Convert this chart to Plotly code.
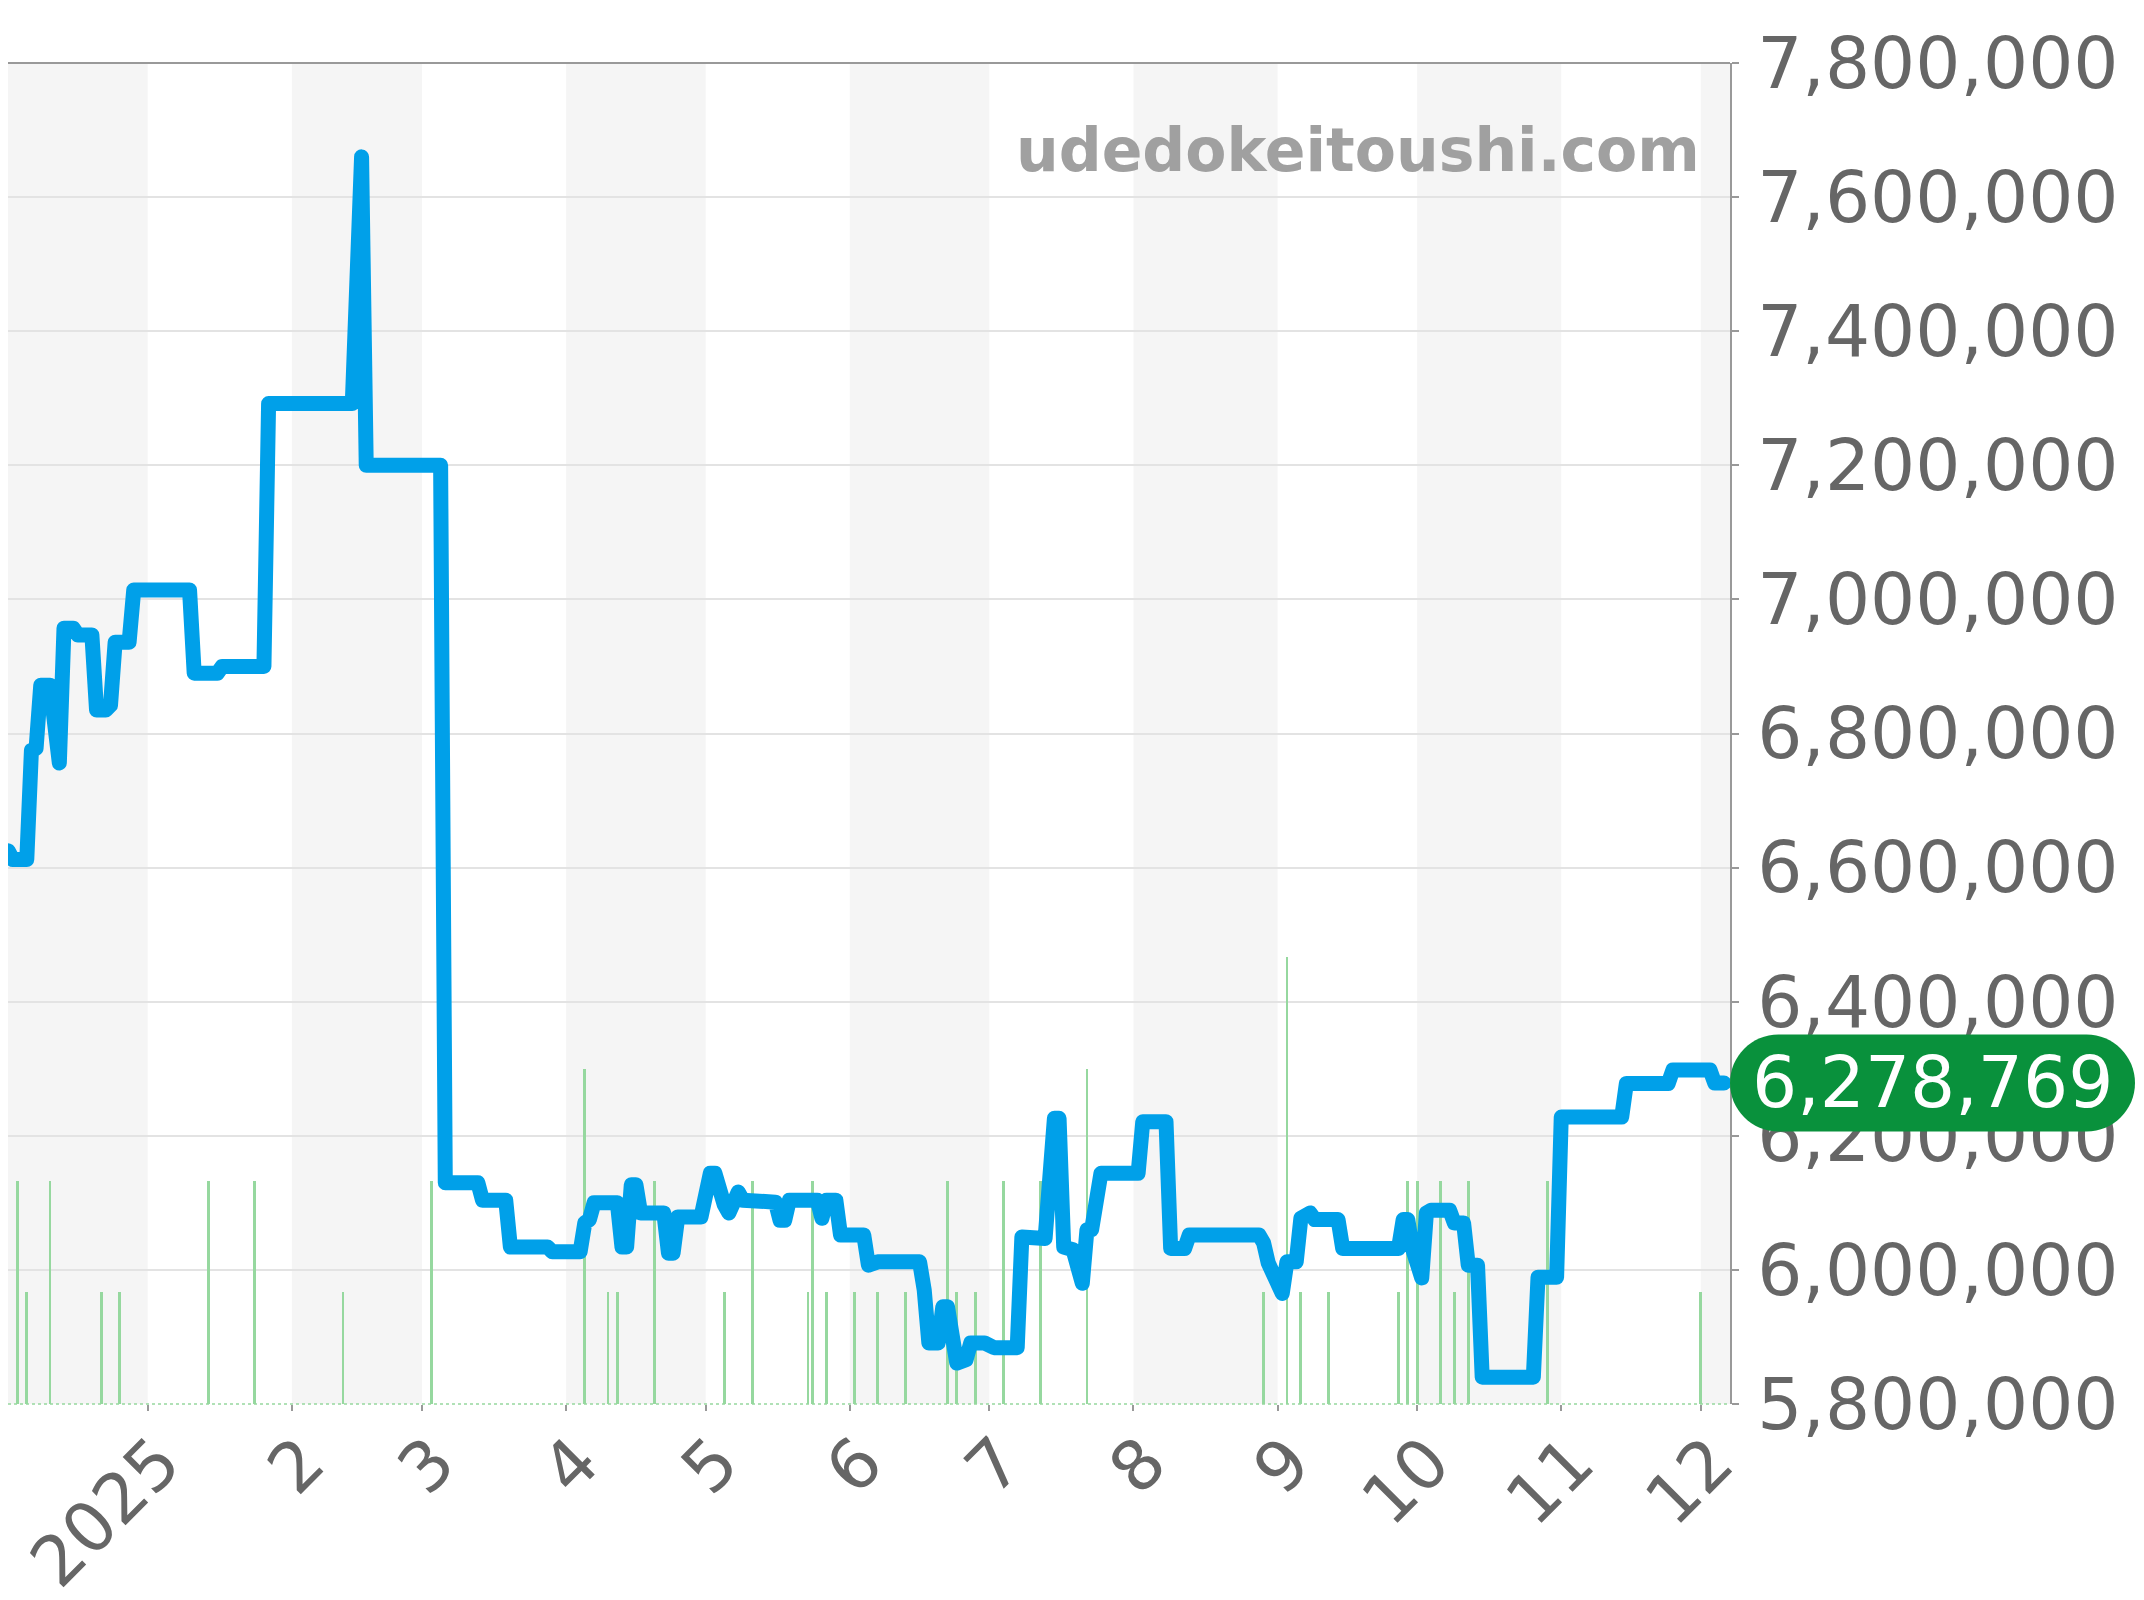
import plotly.graph_objects as go
import pandas as pd

# ---------------- data ----------------
price_dates = [
    "2024-12-02", "2024-12-03", "2024-12-06", "2024-12-07", "2024-12-08", "2024-12-09",
    "2024-12-11", "2024-12-13", "2024-12-14", "2024-12-16", "2024-12-17", "2024-12-20",
    "2024-12-21", "2024-12-23", "2024-12-24", "2024-12-25", "2024-12-28", "2024-12-29",
    "2025-01-10", "2025-01-11", "2025-01-16", "2025-01-17", "2025-01-26", "2025-01-27",
    "2025-02-14", "2025-02-16", "2025-02-17", "2025-03-05", "2025-03-06", "2025-03-13",
    "2025-03-14", "2025-03-19", "2025-03-20", "2025-03-28", "2025-03-29", "2025-04-04",
    "2025-04-05", "2025-04-06", "2025-04-07", "2025-04-12", "2025-04-13", "2025-04-14",
    "2025-04-15", "2025-04-16", "2025-04-17", "2025-04-22", "2025-04-23", "2025-04-24",
    "2025-04-25", "2025-04-30", "2025-05-02", "2025-05-03", "2025-05-05", "2025-05-06",
    "2025-05-08", "2025-05-09", "2025-05-16", "2025-05-17", "2025-05-18", "2025-05-19",
    "2025-05-25", "2025-05-26", "2025-05-27", "2025-05-29", "2025-05-30", "2025-06-04",
    "2025-06-05", "2025-06-07", "2025-06-16", "2025-06-17", "2025-06-18", "2025-06-20",
    "2025-06-21", "2025-06-22", "2025-06-24", "2025-06-25", "2025-06-26", "2025-06-27",
    "2025-06-30", "2025-07-02", "2025-07-07", "2025-07-08", "2025-07-13", "2025-07-15",
    "2025-07-16", "2025-07-17", "2025-07-19", "2025-07-21", "2025-07-22", "2025-07-23",
    "2025-07-25", "2025-08-02", "2025-08-03", "2025-08-08", "2025-08-09", "2025-08-12",
    "2025-08-13", "2025-08-28", "2025-08-29", "2025-08-30", "2025-09-02", "2025-09-03",
    "2025-09-05", "2025-09-06", "2025-09-08", "2025-09-09", "2025-09-14", "2025-09-15",
    "2025-09-27", "2025-09-28", "2025-09-29", "2025-09-30", "2025-10-02", "2025-10-03",
    "2025-10-04", "2025-10-08", "2025-10-09", "2025-10-11", "2025-10-12", "2025-10-14",
    "2025-10-15", "2025-10-26", "2025-10-27", "2025-10-31", "2025-11-01", "2025-11-14",
    "2025-11-15", "2025-11-24", "2025-11-25", "2025-12-03", "2025-12-04", "2025-12-06",
]
prices = [
    6625000, 6612000, 6612000, 6775000, 6778000, 6872000,
    6872000, 6756000, 6957000, 6957000, 6947000, 6947000,
    6835000, 6835000, 6842000, 6936000, 6936000, 7014000,
    7014000, 6890000, 6890000, 6900000, 6900000, 7292000,
    7292000, 7660000, 7200000, 7200000, 6130000, 6130000,
    6104000, 6104000, 6034000, 6034000, 6027000, 6027000,
    6070000, 6075000, 6100000, 6100000, 6034000, 6034000,
    6127000, 6127000, 6085000, 6085000, 6025000, 6025000,
    6079000, 6079000, 6144000, 6144000, 6097000, 6085000,
    6116000, 6104000, 6101000, 6074000, 6074000, 6104000,
    6104000, 6077000, 6104000, 6104000, 6052000, 6052000,
    6007000, 6012000, 6012000, 5970000, 5891000, 5891000,
    5945000, 5945000, 5861000, 5861000, 5866000, 5891000,
    5891000, 5884000, 5884000, 6049000, 6047000, 6226000,
    6226000, 6034000, 6030000, 5980000, 6060000, 6060000,
    6144000, 6144000, 6221000, 6221000, 6032000, 6032000,
    6052000, 6052000, 6040000, 6010000, 5965000, 6012000,
    6012000, 6077000, 6085000, 6075000, 6075000, 6032000,
    6032000, 6075000, 6075000, 6032000, 5988000, 6085000,
    6089000, 6089000, 6070000, 6070000, 6007000, 6007000,
    5840000, 5840000, 5989000, 5989000, 6228000, 6228000,
    6278000, 6278000, 6298000, 6298000, 6278769, 6278769,
]

volume_dates = [
    "2024-12-04", "2024-12-06", "2024-12-11", "2024-12-22", "2024-12-26", "2025-01-14",
    "2025-01-24", "2025-02-12", "2025-03-03", "2025-04-05", "2025-04-10", "2025-04-12",
    "2025-04-20", "2025-05-05", "2025-05-11", "2025-05-23", "2025-05-24", "2025-05-27",
    "2025-06-02", "2025-06-07", "2025-06-13", "2025-06-22", "2025-06-24", "2025-06-28",
    "2025-07-04", "2025-07-12", "2025-07-22", "2025-08-29", "2025-09-03", "2025-09-06",
    "2025-09-12", "2025-09-27", "2025-09-29", "2025-10-01", "2025-10-06", "2025-10-09",
    "2025-10-12", "2025-10-29", "2025-12-01",
]
volumes = [
    2, 1, 2, 1, 1, 2,
    2, 1, 2, 3, 1, 1,
    2, 1, 2, 1, 2, 1,
    1, 1, 1, 2, 1, 1,
    2, 2, 3, 1, 4, 1,
    1, 1, 2, 2, 2, 1,
    2, 2, 1,
]

month_ticks = ["2025-01-01", "2025-02-01", "2025-03-01", "2025-04-01", "2025-05-01",
               "2025-06-01", "2025-07-01", "2025-08-01", "2025-09-01", "2025-10-01",
               "2025-11-01", "2025-12-01"]
month_labels = ["2025", "2", "3", "4", "5", "6", "7", "8", "9", "10", "11", "12"]
shaded_months = ["2024-12-01", "2025-02-01", "2025-04-01", "2025-06-01",
                 "2025-08-01", "2025-10-01", "2025-12-01"]

x_range = ["2024-12-01 23:00", "2025-12-07 07:00"]
price_range = [5800000, 7800000]
price_dtick = 200000
volume_range = [0, 12]
watermark = "udedokeitoushi.com"

# ---------------- style ----------------
FONT = "DejaVu Sans"
LINE_COLOR = "#00a0e9"
BAR_COLOR = "#96d89f"
PILL_COLOR = "#09913c"
TEXT_COLOR = "#666666"
AXIS_COLOR = "#999999"
GRID_COLOR = "#e3e3e3"
BAND_COLOR = "#f5f5f5"

fig = go.Figure()

fig.add_trace(go.Bar(
    x=volume_dates, y=volumes, yaxis="y",
    marker=dict(color=BAR_COLOR, line=dict(width=0)),
    width=0.6 * 86400000, hoverinfo="skip", showlegend=False,
))

fig.add_trace(go.Scatter(
    x=price_dates, y=prices, yaxis="y2", mode="lines",
    line=dict(color=LINE_COLOR, width=15), showlegend=False,
))

shapes = []
for m in shaded_months:
    start = pd.Timestamp(m)
    end = start + pd.offsets.MonthBegin(1)
    shapes.append(dict(type="rect", xref="x", yref="paper",
                       x0=start.strftime("%Y-%m-%d"), x1=end.strftime("%Y-%m-%d"),
                       y0=0, y1=1, fillcolor=BAND_COLOR, line=dict(width=0),
                       layer="below"))

# top border and dotted baseline
shapes.append(dict(type="line", xref="paper", yref="paper", x0=0, x1=1, y0=1, y1=1,
                   line=dict(color=AXIS_COLOR, width=2), layer="above"))
shapes.append(dict(type="line", xref="paper", yref="paper", x0=0, x1=1, y0=0, y1=0,
                   line=dict(color=BAR_COLOR, width=1.5, dash="dot"), layer="above"))

# pill for latest value
W, H = 405, 97
r = H / 2
k = 0.5523 * r
pill = (f"M {r},{-r} L {W - r},{-r} "
        f"C {W - r + k},{-r} {W},{-k} {W},0 "
        f"C {W},{k} {W - r + k},{r} {W - r},{r} "
        f"L {r},{r} "
        f"C {r - k},{r} 0,{k} 0,0 "
        f"C 0,{-k} {r - k},{-r} {r},{-r} Z")
last_price = prices[-1]
shapes.append(dict(type="path", path=pill, xref="paper", yref="y2",
                   xsizemode="pixel", ysizemode="pixel",
                   xanchor=1, yanchor=last_price,
                   fillcolor=PILL_COLOR, line=dict(width=0), layer="above"))

annotations = [
    dict(x=1, xref="paper", xshift=W / 2, y=last_price, yref="y2",
         text=f"{last_price:,}", showarrow=False, xanchor="center", yanchor="middle",
         font=dict(family=FONT, size=71, color="white")),
    dict(x=0.9837, y=0.935, xref="paper", yref="paper", text=f"<b>{watermark}</b>",
         showarrow=False, xanchor="right", yanchor="middle",
         font=dict(family=FONT, size=60, color="#a0a0a0")),
]

fig.update_layout(
    width=2128, height=1584,
    margin=dict(l=0, r=406, t=55, b=188, pad=0, autoexpand=False),
    paper_bgcolor="white", plot_bgcolor="white",
    font=dict(family=FONT, color=TEXT_COLOR),
    bargap=0,
    xaxis=dict(
        type="date", range=x_range, automargin=False,
        tickmode="array", tickvals=month_ticks, ticktext=month_labels,
        tickangle=-45, tickfont=dict(family=FONT, size=69, color=TEXT_COLOR),
        ticks="outside", ticklen=6, tickwidth=2, tickcolor=AXIS_COLOR,
        ticklabelshift=12, ticklabelstandoff=-17,
        showgrid=False, showline=False, zeroline=False,
    ),
    yaxis=dict(range=volume_range, visible=False, fixedrange=True, automargin=False),
    yaxis2=dict(
        overlaying="y", side="right", range=price_range, dtick=price_dtick,
        tick0=price_range[0], tickformat=",d", automargin=False,
        tickfont=dict(family=FONT, size=71, color=TEXT_COLOR),
        ticks="outside", ticklen=7, tickwidth=2, tickcolor=AXIS_COLOR,
        ticklabelstandoff=4,
        showline=True, linecolor=AXIS_COLOR, linewidth=2,
        showgrid=True, gridcolor=GRID_COLOR, gridwidth=1.5, zeroline=False,
    ),
    shapes=shapes,
    annotations=annotations,
    showlegend=False,
)

round_joins = (
    "document.querySelectorAll('.scatterlayer path.js-line').forEach(function(p){"
    "p.style.strokeLinejoin='round';p.style.strokeLinecap='round';});"
)

fig.write_html("out.html", post_script=round_joins)
